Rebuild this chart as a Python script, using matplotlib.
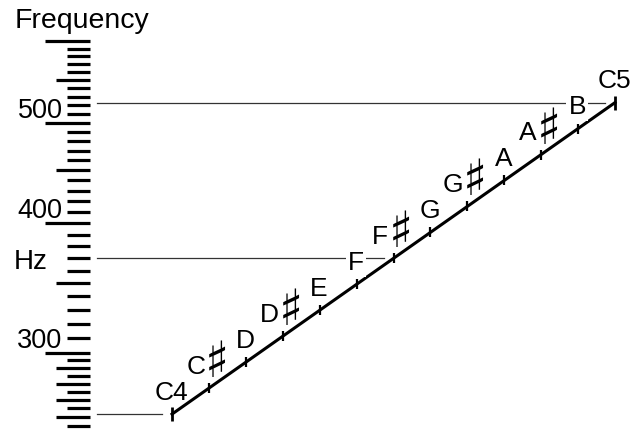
import matplotlib
matplotlib.use("Agg")
import matplotlib.pyplot as plt

plt.rcParams['font.family'] = ['Liberation Sans', 'DejaVu Sans']

# note names along the diagonal, C4 .. C5
notes = ['C4', 'C', 'D', 'D', 'E', 'F', 'F', 'G', 'G', 'A', 'A', 'B', 'C5']
sharp = [False, True, False, True, False, False, True, False, True, False, True, False, False]
note_freqs = [261.63, 277.18, 293.66, 311.13, 329.63, 349.23, 369.99,
              392.00, 415.30, 440.00, 466.16, 493.88, 523.25]
semitones = list(range(len(notes)))

# guide lines from the ruler to these notes
guide_notes = [0, 6, 12]

# ruler ticks (Hz)
ruler_ticks = list(range(260, 601, 10)) + [255, 265, 275, 285, 295]
ruler_labels = [300, 400, 500]

fig = plt.figure(figsize=(6.32, 4.29), dpi=100)
ax = fig.add_axes([0, 0, 1, 1])
ax.set_yscale('log')
ax.set_ylim(253.1, 657.4)
ax.set_xlim(-4.66, 12.46)
ax.axis('off')

# ruler
yt = ax.get_yaxis_transform()
for f in ruler_ticks:
    if f % 100 == 0:
        x0 = 0.071
    elif f % 50 == 0 or (f < 300 and f % 10 == 0):
        x0 = 0.089
    else:
        x0 = 0.106
    ax.plot([x0, 0.1425], [f, f], color='black', lw=2.3, solid_capstyle='butt', transform=yt)

for f in ruler_labels:
    ax.annotate(str(f), xy=(0.099, f), xycoords=yt, xytext=(0, 3.5),
                textcoords='offset points', ha='right', va='baseline', fontsize=19.5)

ax.text(0.129, 0.951, 'Frequency', transform=ax.transAxes, ha='center', va='center', fontsize=20.5)
ax.annotate('Hz', xy=(0.022, 367), xycoords=yt, ha='left', va='center', fontsize=20)

# guide lines
x_start = ax.transData.inverted().transform(ax.transAxes.transform((0.1535, 0)))[0]
for i in guide_notes:
    ax.plot([x_start, semitones[i] - 0.27], [note_freqs[i], note_freqs[i]],
            color='#333333', lw=0.9, zorder=1)

# diagonal
ax.plot(semitones, note_freqs, color='black', lw=2.2, zorder=3)
ax.plot(semitones[1:-1], note_freqs[1:-1], ls='none', marker='|', ms=7, mew=1.6,
        color='black', zorder=3)
ax.plot([semitones[0], semitones[-1]], [note_freqs[0], note_freqs[-1]], ls='none',
        marker='|', ms=10, mew=2, color='black', zorder=3)

for i, name in enumerate(notes):
    x, f = semitones[i], note_freqs[i]
    if sharp[i]:
        dx = -10.5 if name == 'G' else -9.5
        ax.annotate(name, xy=(x, f), xytext=(dx, 15.5), textcoords='offset points',
                    ha='center', va='center', fontsize=19, zorder=4)
        ax.annotate('\u266f', xy=(x, f), xytext=(5.5, 18), textcoords='offset points',
                    ha='center', va='center', fontsize=36, fontweight='bold',
                    family='DejaVu Sans', zorder=4)
    else:
        box = None
        if i in (5, 11):
            box = dict(facecolor='white', edgecolor='none', pad=1.5)
        ax.annotate(name, xy=(x, f), xytext=(-0.7, 15.5), textcoords='offset points',
                    ha='center', va='center', fontsize=19, bbox=box, zorder=4)

fig.savefig('out.png', dpi=100)
